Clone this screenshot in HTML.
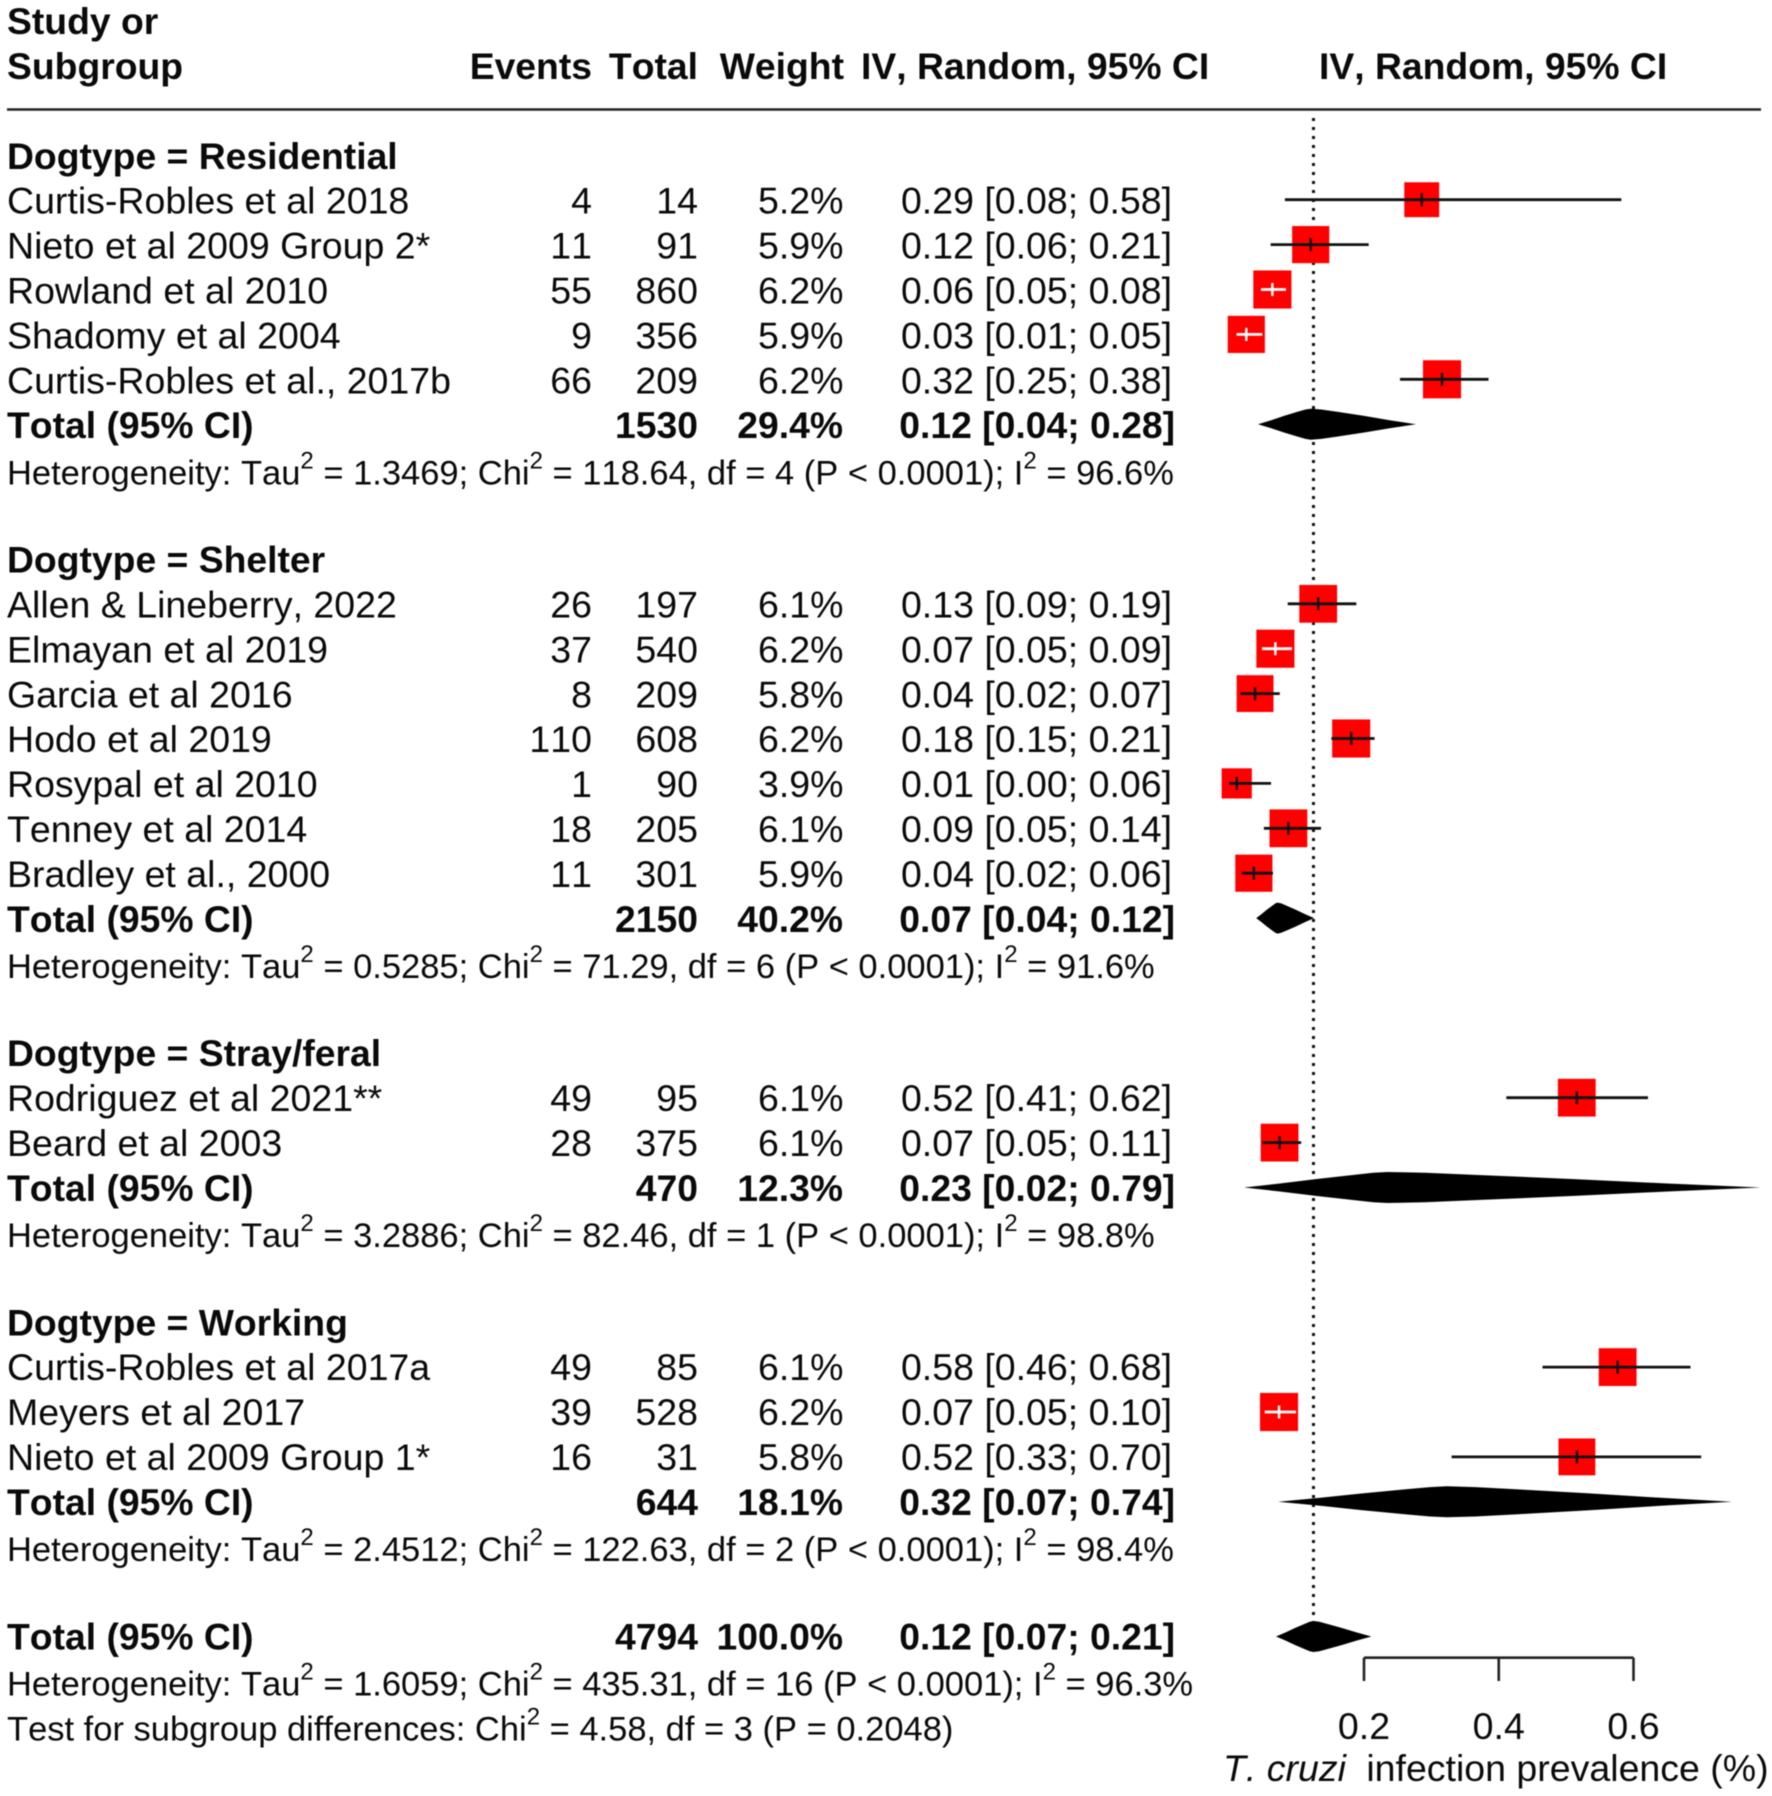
<!DOCTYPE html>
<html lang="en">
<head>
<meta charset="utf-8">
<title>T. cruzi infection prevalence forest plot</title>
<style>
html,body{margin:0;padding:0;background:#fff;}
#chart{display:block;filter:blur(0.45px);}
text{font-family:"Liberation Sans",Arial,sans-serif;font-size:37.5px;fill:#0a0a0a;font-kerning:none;}
.b{font-weight:bold;font-size:37.3px;}
.r{text-anchor:end;}
.h{font-size:34.5px;transform:translateY(1.2px);}
.s{font-size:24px;}
.tbl{transform:translateY(1.1px);}
.tbl2{transform:translateY(0.8px);}
.tbl3{transform:translateY(0.5px);}
.tbl4{transform:translateY(0.2px);}
</style>
</head>
<body>
<svg id="chart" xmlns="http://www.w3.org/2000/svg" width="1772" height="1796" viewBox="0 0 1772 1796">
<rect x="0" y="0" width="1772" height="1796" fill="#fff"/>

<g class="tbl">
<text class="b" x="7" y="33">Study or</text>
<text class="b" x="7" y="77.9">Subgroup</text>
<text class="b r" x="592" y="77.9">Events</text>
<text class="b r" x="698" y="77.9">Total</text>
<text class="b r" x="844" y="77.9">Weight</text>
<text class="b" x="861" y="77.9">IV, Random, 95% CI</text>
<text class="b" x="1319" y="77.9">IV, Random, 95% CI</text>
</g>
<line x1="7" x2="1761" y1="109.5" y2="109.5" stroke="#222" stroke-width="2.4"/>

<g class="tbl">
<text class="b" x="7" y="167.7">Dogtype = Residential</text>
<text x="7" y="212.6">Curtis-Robles et al 2018</text>
<text class="r" x="592" y="212.6">4</text>
<text class="r" x="698" y="212.6">14</text>
<text class="r" x="843.5" y="212.6">5.2%</text>
<text class="r" x="1172" y="212.6">0.29 [0.08; 0.58]</text>
<text x="7" y="257.5">Nieto et al 2009 Group 2*</text>
<text class="r" x="592" y="257.5">11</text>
<text class="r" x="698" y="257.5">91</text>
<text class="r" x="843.5" y="257.5">5.9%</text>
<text class="r" x="1172" y="257.5">0.12 [0.06; 0.21]</text>
<text x="7" y="302.4">Rowland et al 2010</text>
<text class="r" x="592" y="302.4">55</text>
<text class="r" x="698" y="302.4">860</text>
<text class="r" x="843.5" y="302.4">6.2%</text>
<text class="r" x="1172" y="302.4">0.06 [0.05; 0.08]</text>
<text x="7" y="347.3">Shadomy et al 2004</text>
<text class="r" x="592" y="347.3">9</text>
<text class="r" x="698" y="347.3">356</text>
<text class="r" x="843.5" y="347.3">5.9%</text>
<text class="r" x="1172" y="347.3">0.03 [0.01; 0.05]</text>
<text x="7" y="392.2">Curtis-Robles et al., 2017b</text>
<text class="r" x="592" y="392.2">66</text>
<text class="r" x="698" y="392.2">209</text>
<text class="r" x="843.5" y="392.2">6.2%</text>
<text class="r" x="1172" y="392.2">0.32 [0.25; 0.38]</text>
<text class="b" x="7" y="437.1">Total (95% CI)</text>
<text class="b r" x="698" y="437.1">1530</text>
<text class="b r" x="843" y="437.1">29.4%</text>
<text class="b r" x="1175" y="437.1">0.12 [0.04; 0.28]</text>
<text class="h" x="7" y="482">Heterogeneity: Tau<tspan class="s" dy="-16">2</tspan><tspan dy="16"> = 1.3469; Chi</tspan><tspan class="s" dy="-16">2</tspan><tspan dy="16"> = 118.64, df = 4 (P &lt; 0.0001); I</tspan><tspan class="s" dy="-16">2</tspan><tspan dy="16"> = 96.6%</tspan></text>
</g>

<g class="tbl2">
<text class="b" x="7" y="571.8">Dogtype = Shelter</text>
<text x="7" y="616.7">Allen &amp; Lineberry, 2022</text>
<text class="r" x="592" y="616.7">26</text>
<text class="r" x="698" y="616.7">197</text>
<text class="r" x="843.5" y="616.7">6.1%</text>
<text class="r" x="1172" y="616.7">0.13 [0.09; 0.19]</text>
<text x="7" y="661.6">Elmayan et al 2019</text>
<text class="r" x="592" y="661.6">37</text>
<text class="r" x="698" y="661.6">540</text>
<text class="r" x="843.5" y="661.6">6.2%</text>
<text class="r" x="1172" y="661.6">0.07 [0.05; 0.09]</text>
<text x="7" y="706.5">Garcia et al 2016</text>
<text class="r" x="592" y="706.5">8</text>
<text class="r" x="698" y="706.5">209</text>
<text class="r" x="843.5" y="706.5">5.8%</text>
<text class="r" x="1172" y="706.5">0.04 [0.02; 0.07]</text>
<text x="7" y="751.4">Hodo et al 2019</text>
<text class="r" x="592" y="751.4">110</text>
<text class="r" x="698" y="751.4">608</text>
<text class="r" x="843.5" y="751.4">6.2%</text>
<text class="r" x="1172" y="751.4">0.18 [0.15; 0.21]</text>
<text x="7" y="796.3">Rosypal et al 2010</text>
<text class="r" x="592" y="796.3">1</text>
<text class="r" x="698" y="796.3">90</text>
<text class="r" x="843.5" y="796.3">3.9%</text>
<text class="r" x="1172" y="796.3">0.01 [0.00; 0.06]</text>
<text x="7" y="841.2">Tenney et al 2014</text>
<text class="r" x="592" y="841.2">18</text>
<text class="r" x="698" y="841.2">205</text>
<text class="r" x="843.5" y="841.2">6.1%</text>
<text class="r" x="1172" y="841.2">0.09 [0.05; 0.14]</text>
<text x="7" y="886.1">Bradley et al., 2000</text>
<text class="r" x="592" y="886.1">11</text>
<text class="r" x="698" y="886.1">301</text>
<text class="r" x="843.5" y="886.1">5.9%</text>
<text class="r" x="1172" y="886.1">0.04 [0.02; 0.06]</text>
<text class="b" x="7" y="931">Total (95% CI)</text>
<text class="b r" x="698" y="931">2150</text>
<text class="b r" x="843" y="931">40.2%</text>
<text class="b r" x="1175" y="931">0.07 [0.04; 0.12]</text>
<text class="h" x="7" y="975.9">Heterogeneity: Tau<tspan class="s" dy="-16">2</tspan><tspan dy="16"> = 0.5285; Chi</tspan><tspan class="s" dy="-16">2</tspan><tspan dy="16"> = 71.29, df = 6 (P &lt; 0.0001); I</tspan><tspan class="s" dy="-16">2</tspan><tspan dy="16"> = 91.6%</tspan></text>
</g>

<g class="tbl3">
<text class="b" x="7" y="1065.7">Dogtype = Stray/feral</text>
<text x="7" y="1110.6">Rodriguez et al 2021**</text>
<text class="r" x="592" y="1110.6">49</text>
<text class="r" x="698" y="1110.6">95</text>
<text class="r" x="843.5" y="1110.6">6.1%</text>
<text class="r" x="1172" y="1110.6">0.52 [0.41; 0.62]</text>
<text x="7" y="1155.5">Beard et al 2003</text>
<text class="r" x="592" y="1155.5">28</text>
<text class="r" x="698" y="1155.5">375</text>
<text class="r" x="843.5" y="1155.5">6.1%</text>
<text class="r" x="1172" y="1155.5">0.07 [0.05; 0.11]</text>
<text class="b" x="7" y="1200.4">Total (95% CI)</text>
<text class="b r" x="698" y="1200.4">470</text>
<text class="b r" x="843" y="1200.4">12.3%</text>
<text class="b r" x="1175" y="1200.4">0.23 [0.02; 0.79]</text>
<text class="h" x="7" y="1245.3">Heterogeneity: Tau<tspan class="s" dy="-16">2</tspan><tspan dy="16"> = 3.2886; Chi</tspan><tspan class="s" dy="-16">2</tspan><tspan dy="16"> = 82.46, df = 1 (P &lt; 0.0001); I</tspan><tspan class="s" dy="-16">2</tspan><tspan dy="16"> = 98.8%</tspan></text>
</g>

<g class="tbl4">
<text class="b" x="7" y="1335.1">Dogtype = Working</text>
<text x="7" y="1380">Curtis-Robles et al 2017a</text>
<text class="r" x="592" y="1380">49</text>
<text class="r" x="698" y="1380">85</text>
<text class="r" x="843.5" y="1380">6.1%</text>
<text class="r" x="1172" y="1380">0.58 [0.46; 0.68]</text>
<text x="7" y="1424.9">Meyers et al 2017</text>
<text class="r" x="592" y="1424.9">39</text>
<text class="r" x="698" y="1424.9">528</text>
<text class="r" x="843.5" y="1424.9">6.2%</text>
<text class="r" x="1172" y="1424.9">0.07 [0.05; 0.10]</text>
<text x="7" y="1469.8">Nieto et al 2009 Group 1*</text>
<text class="r" x="592" y="1469.8">16</text>
<text class="r" x="698" y="1469.8">31</text>
<text class="r" x="843.5" y="1469.8">5.8%</text>
<text class="r" x="1172" y="1469.8">0.52 [0.33; 0.70]</text>
<text class="b" x="7" y="1514.7">Total (95% CI)</text>
<text class="b r" x="698" y="1514.7">644</text>
<text class="b r" x="843" y="1514.7">18.1%</text>
<text class="b r" x="1175" y="1514.7">0.32 [0.07; 0.74]</text>
<text class="h" x="7" y="1559.6">Heterogeneity: Tau<tspan class="s" dy="-16">2</tspan><tspan dy="16"> = 2.4512; Chi</tspan><tspan class="s" dy="-16">2</tspan><tspan dy="16"> = 122.63, df = 2 (P &lt; 0.0001); I</tspan><tspan class="s" dy="-16">2</tspan><tspan dy="16"> = 98.4%</tspan></text>
</g>

<g class="tbl4">
<text class="b" x="7" y="1649.4">Total (95% CI)</text>
<text class="b r" x="698" y="1649.4">4794</text>
<text class="b r" x="843" y="1649.4">100.0%</text>
<text class="b r" x="1175" y="1649.4">0.12 [0.07; 0.21]</text>
<text class="h" x="7" y="1694.3">Heterogeneity: Tau<tspan class="s" dy="-16">2</tspan><tspan dy="16"> = 1.6059; Chi</tspan><tspan class="s" dy="-16">2</tspan><tspan dy="16"> = 435.31, df = 16 (P &lt; 0.0001); I</tspan><tspan class="s" dy="-16">2</tspan><tspan dy="16"> = 96.3%</tspan></text>
<text class="h" x="7" y="1739.2">Test for subgroup differences: Chi<tspan class="s" dy="-16">2</tspan><tspan dy="16"> = 4.58, df = 3 (P = 0.2048)</tspan></text>
</g>

<g id="plot"></g>
<text id="xlabel" x="1223" y="1781"><tspan font-style="italic">T. cruzi</tspan><tspan>  </tspan><tspan dx="10">infection prevalence (%)</tspan></text>
</svg>

<script>
// Subgroup layout
const groupNames = ['residential', 'shelter', 'stray-feral', 'working'];
const groupSizes = [5, 7, 2, 3];

// Study-level estimates (proportions)
const studyNames = ['curtis-robles-2018', 'nieto-group-2', 'rowland-2010', 'shadomy-2004', 'curtis-robles-2017b',
  'allen-2022', 'elmayan-2019', 'garcia-2016', 'hodo-2019', 'rosypal-2010', 'tenney-2014', 'bradley-2000',
  'rodriguez-2021', 'beard-2003',
  'curtis-robles-2017a', 'meyers-2017', 'nieto-group-1'];
const studyEffects = [0.2857, 0.1209, 0.0640, 0.0253, 0.3158,
  0.1320, 0.0685, 0.0383, 0.1810, 0.0111, 0.0878, 0.0365,
  0.5158, 0.0747,
  0.5765, 0.0739, 0.5160];
const studyLowers = [0.0826, 0.0614, 0.0471, 0.0108, 0.2534,
  0.0868, 0.0486, 0.0167, 0.1515, 0.0000, 0.0514, 0.0185,
  0.4112, 0.0490,
  0.4649, 0.0526, 0.3300];
const studyUppers = [0.5820, 0.2070, 0.0842, 0.0490, 0.3848,
  0.1886, 0.0931, 0.0750, 0.2157, 0.0620, 0.1362, 0.0649,
  0.6215, 0.1068,
  0.6846, 0.0991, 0.7005];
const studyWeights = [5.2, 5.9, 6.2, 5.9, 6.2,
  6.1, 6.2, 5.8, 6.2, 3.9, 6.1, 5.9,
  6.1, 6.1,
  6.1, 6.2, 5.8];

// Subgroup pooled estimates
const pooledEffects = [0.1210, 0.0716, 0.2350, 0.3230];
const pooledLowers = [0.0427, 0.0400, 0.0219, 0.0727];
const pooledUppers = [0.2772, 0.1260, 0.7890, 0.7462];

// Overall pooled estimate
const overallEffect = 0.1250;
const overallLower = 0.0694;
const overallUpper = 0.2110;

// Axis
const tickValues = [0.2, 0.4, 0.6];
const tickLabels = ['0.2', '0.4', '0.6'];

const SVGNS = 'http://www.w3.org/2000/svg';
const plot = document.getElementById('plot');

function xScale(v) { return 1229.25 + 673.75 * v; }
function rowY(n) { return 199.7 + 44.9 * (n - 4); }
function squareSize(w) { return 15.3 * Math.sqrt(w); }

function mk(tag, attrs) {
  const el = document.createElementNS(SVGNS, tag);
  for (const k in attrs) el.setAttribute(k, attrs[k]);
  plot.appendChild(el);
  return el;
}

// Reference line at the overall estimate
const refLine = mk('line', {
  x1: xScale(overallEffect), x2: xScale(overallEffect), y1: 118, y2: rowY(36) - 15,
  stroke: '#111', 'stroke-width': 3, 'stroke-dasharray': '3 6'
});



// Diamond edges are slightly bowed outward, as in the reference
function diamondPath(effect, lower, upper, y) {
  const l = xScale(lower), c = xScale(effect), u = xScale(upper), h = 15.5;
  const fx = [0.25, 0.5, 0.75, 0.9];
  const fh = [0.26, 0.54, 0.8, 0.95];
  const pts = [[l, y]];
  fx.forEach(function (f, i) { pts.push([l + (c - l) * f, y - h * fh[i]]); });
  pts.push([c, y - h]);
  for (let i = 3; i >= 0; i--) pts.push([u - (u - c) * fx[i], y - h * fh[i]]);
  pts.push([u, y]);
  for (let i = 0; i < 4; i++) pts.push([u - (u - c) * fx[i], y + h * fh[i]]);
  pts.push([c, y + h]);
  for (let i = 3; i >= 0; i--) pts.push([l + (c - l) * fx[i], y + h * fh[i]]);
  return pts.map(function (p) { return p[0].toFixed(1) + ',' + p[1].toFixed(1); }).join(' ');
}

function drawDiamond(effect, lower, upper, row, name) {
  const d = mk('polygon', { points: diamondPath(effect, lower, upper, rowY(row)), fill: '#000' });
  
  
}

let row = 3;
let idx = 0;
groupNames.forEach(function (g, gi) {
  for (let i = 0; i < groupSizes[gi]; i++) {
    const n = row + 1 + i;
    const y = rowY(n);
    const cx = xScale(studyEffects[idx]);
    const size = squareSize(studyWeights[idx]);
    const lo = xScale(studyLowers[idx]);
    const hi = xScale(studyUppers[idx]);
    const inside = lo >= cx - size / 2 && hi <= cx + size / 2;
    const colour = inside ? '#fff' : '#111';

    const square = mk('rect', { x: cx - size / 2, y: y - size / 2, width: size, height: size, fill: '#ff0000' });
    
    

    const ciLine = mk('line', { x1: lo, x2: hi, y1: y, y2: y, stroke: colour, 'stroke-width': 2.8 });
    
    

    const mark = mk('line', { x1: cx, x2: cx, y1: y - 6.5, y2: y + 6.5, stroke: colour, 'stroke-width': 2.4 });
    
    
    idx++;
  }
  drawDiamond(pooledEffects[gi], pooledLowers[gi], pooledUppers[gi], row + groupSizes[gi] + 1, 'diamond-' + g);
  row += groupSizes[gi] + 4;
});
drawDiamond(overallEffect, overallLower, overallUpper, row, 'diamond-overall');

// X axis
const axisTop = 1657.7;
const axisBottom = 1681;
const axisLine = mk('line', {
  x1: xScale(tickValues[0]), x2: xScale(tickValues[tickValues.length - 1]), y1: axisTop, y2: axisTop,
  stroke: '#222', 'stroke-width': 2.6
});


tickValues.forEach(function (v, i) {
  const t = mk('line', { x1: xScale(v), x2: xScale(v), y1: axisTop, y2: axisBottom, stroke: '#222', 'stroke-width': 2.6 });
  
  
  const l = mk('text', { x: xScale(v), y: 1739, 'text-anchor': 'middle' });
  
  
  l.textContent = tickLabels[i];
});
</script>
</body>
</html>
